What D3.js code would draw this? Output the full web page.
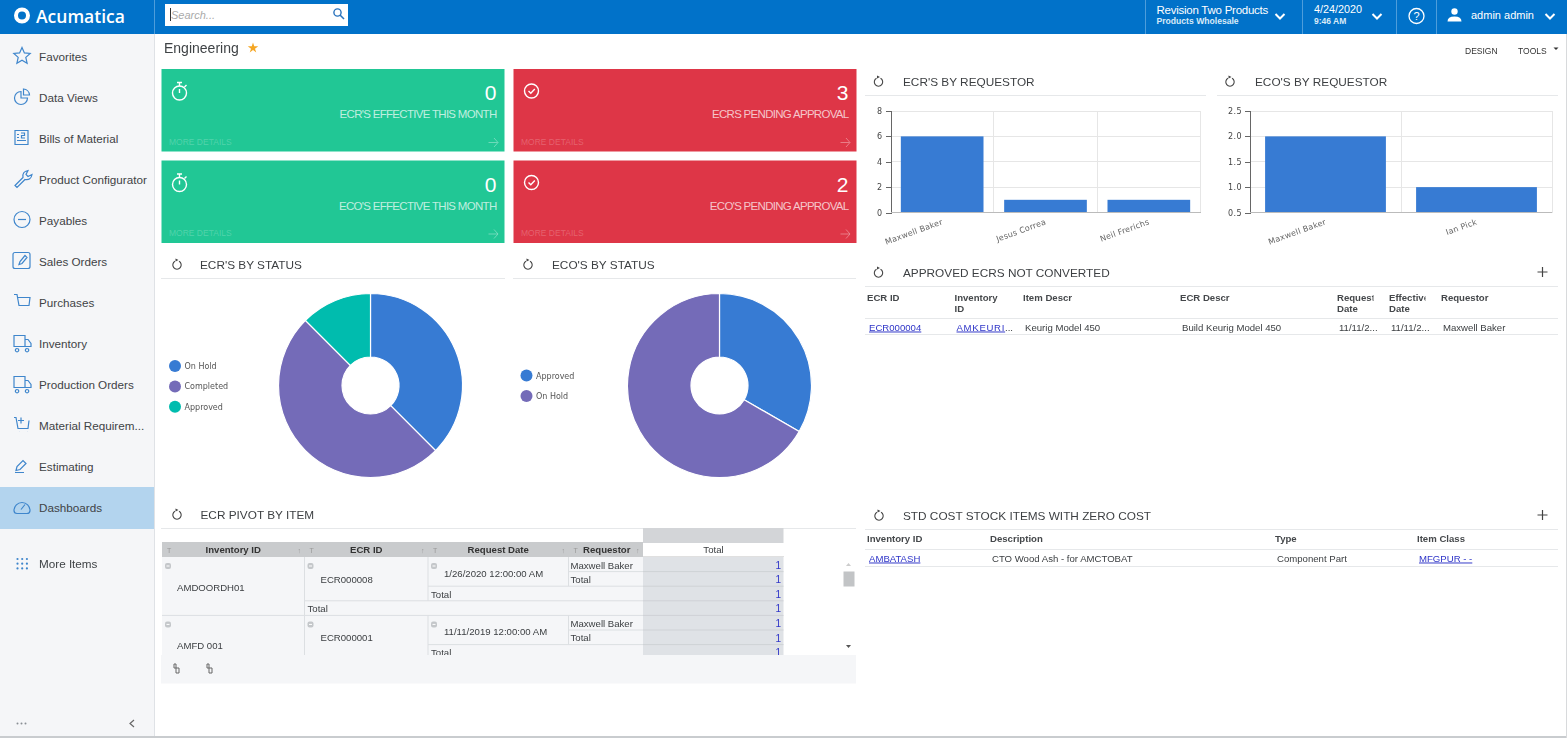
<!DOCTYPE html>
<html>
<head>
<meta charset="utf-8">
<script src="https://cdn.jsdelivr.net/npm/d3@7"></script>
<style>
  html, body { margin: 0; padding: 0; background: #fff; overflow: hidden; }
  svg { display: block; font-family: "Liberation Sans", Arial, sans-serif; filter: blur(0.3px); }
  .title { font-size: 11.8px; fill: #3c3f42; }
  .th { font-size: 9.6px; font-weight: bold; fill: #45484b; }
  .td { font-size: 9.6px; fill: #3d4043; }
  .link { font-size: 9.6px; fill: #2f35c8; text-decoration: underline; }
  .axis text { font-family: "DejaVu Sans", sans-serif; font-size: 8px; letter-spacing: 0.4px; fill: #444; }
  .axis path, .axis line { stroke: #666; shape-rendering: crispEdges; }
  .grid line { stroke: #e6e6e6; shape-rendering: crispEdges; }
  .cat { font-family: "DejaVu Sans", sans-serif; font-size: 8px; letter-spacing: 0.2px; fill: #666; }
  .legend { font-family: "DejaVu Sans", sans-serif; font-size: 8px; fill: #555; }
  .nav { font-size: 11.7px; fill: #3f4346; }
  .ico { fill: none; stroke: #3f86cc; stroke-width: 1.2; }
</style>
</head>
<body>
<svg id="page" width="1567" height="738"></svg>
<script>
// chart data
var ecrRequestors = ["Maxwell Baker", "Jesus Correa", "Neil Frerichs"];
var ecrCounts = [6, 1, 1];
var ecrTicks = [0, 2, 4, 6, 8];
var ecoRequestors = ["Maxwell Baker", "Ian Pick"];
var ecoCounts = [2, 1];
var ecoTicks = [0.5, 1.0, 1.5, 2.0, 2.5];
var ecrStatus = ["On Hold", "Completed", "Approved"];
var ecrStatusCounts = [3, 4, 1];
var ecoStatus = ["Approved", "On Hold"];
var ecoStatusCounts = [1, 2];

// page text
var navItems = ["Favorites", "Data Views", "Bills of Material", "Product Configurator", "Payables", "Sales Orders",
  "Purchases", "Inventory", "Production Orders", "Material Requirem...", "Estimating", "Dashboards"];
var approvedHeaders = [["ECR ID"], ["Inventory", "ID"], ["Item Descr"], ["ECR Descr"], ["Request", "Date"], ["Effective", "Date"], ["Requestor"]];
var approvedRow = ["ECR000004", "AMKEURI", "Keurig Model 450", "Build Keurig Model 450", "11/11/2...", "11/11/2...", "Maxwell Baker"];
var stdHeaders = ["Inventory ID", "Description", "Type", "Item Class"];
var stdRow = ["AMBATASH", "CTO Wood Ash - for AMCTOBAT", "Component Part", "MFGPUR - -"];
var pivotHeaders = ["Inventory ID", "ECR ID", "Request Date", "Requestor"];

var colors = ["#377bd3", "#746bb8", "#00bcae"];
var svg = d3.select("#page");
var defs = svg.append("defs");

function rect(g, x, y, w, h, fill) {
  return g.append("rect").attr("x", x).attr("y", y).attr("width", w).attr("height", h).attr("fill", fill);
}
function text(g, x, y, s, cls) {
  return g.append("text").attr("x", x).attr("y", y).attr("class", cls || null).text(s);
}
function rule(g, x1, x2, y, color) {
  g.append("line").attr("x1", x1).attr("x2", x2).attr("y1", y + 0.5).attr("y2", y + 0.5)
    .attr("stroke", color || "#e6e8ea").attr("shape-rendering", "crispEdges");
}
function refreshIcon(g, cx, cy) {
  g.append("path").attr("fill", "none").attr("stroke", "#444").attr("stroke-width", 1.1)
    .attr("d", d3.arc()({innerRadius: 4.2, outerRadius: 4.2, startAngle: 0.5, endAngle: 5.8}))
    .attr("transform", "translate(" + cx + "," + cy + ")");
  g.append("path").attr("fill", "#444").attr("d", "M" + (cx - 1.5) + " " + (cy - 6.5) + "l3 1.5l-3 1.5z");
}
function panelTitle(g, s, iconX, textX, y, x1, x2) {
  refreshIcon(g, iconX, y - 4);
  text(g, textX, y, s, "title");
  rule(g, x1, x2, y + 9);
}
function chevron(g, cx, cy) {
  g.append("path").attr("fill", "none").attr("stroke", "#fff").attr("stroke-width", 2)
    .attr("d", "M" + (cx - 4.5) + " " + (cy - 2) + "l4.5 4.5l4.5 -4.5");
}

// top bar
var bar = svg.append("g");
rect(bar, 0, 0, 1567, 34, "#0172c9");
bar.append("circle").attr("cx", 22).attr("cy", 15.5).attr("r", 6).attr("fill", "none").attr("stroke", "#fff").attr("stroke-width", 4);
text(bar, 36, 22.5, "Acumatica").attr("fill", "#fff").attr("font-family", "'Open Sans'").attr("font-size", 17.5).attr("font-weight", 600);
[154, 1145, 1302, 1396, 1436].forEach(function(x) {
  bar.append("line").attr("x1", x + 0.5).attr("x2", x + 0.5).attr("y1", 0).attr("y2", 34).attr("stroke", "#4d9ddb");
});
rect(bar, 165, 4, 183, 22, "#fff");
bar.append("line").attr("x1", 170.5).attr("x2", 170.5).attr("y1", 8).attr("y2", 21).attr("stroke", "#333");
text(bar, 171, 19, "Search...").attr("font-size", 11).attr("font-style", "italic").attr("fill", "#aaa");
bar.append("circle").attr("cx", 337.5).attr("cy", 12.5).attr("r", 3.6).attr("fill", "none").attr("stroke", "#2a73bd").attr("stroke-width", 1.4);
bar.append("line").attr("x1", 340).attr("y1", 15).attr("x2", 344).attr("y2", 19).attr("stroke", "#2a73bd").attr("stroke-width", 1.6);
text(bar, 1156.5, 13.5, "Revision Two Products").attr("fill", "#fff").attr("font-size", 11.5).attr("letter-spacing", -0.25);
text(bar, 1156.5, 24, "Products Wholesale").attr("fill", "#d8eaf8").attr("font-size", 8.6).attr("font-weight", "bold");
chevron(bar, 1280, 16);
text(bar, 1314, 12.5, "4/24/2020").attr("fill", "#fff").attr("font-size", 10.8);
text(bar, 1314, 24, "9:46 AM").attr("fill", "#d8eaf8").attr("font-size", 8.5).attr("font-weight", "bold");
chevron(bar, 1377, 16);
bar.append("circle").attr("cx", 1416.5).attr("cy", 16).attr("r", 7.5).attr("fill", "none").attr("stroke", "#fff").attr("stroke-width", 1.3);
text(bar, 1416.5, 20, "?").attr("fill", "#fff").attr("font-size", 11).attr("text-anchor", "middle");
bar.append("circle").attr("cx", 1454.5).attr("cy", 11.5).attr("r", 3.2).attr("fill", "#fff");
bar.append("path").attr("fill", "#fff").attr("d", "M1447.5 21.5q0 -5 7 -5q7 0 7 5z");
text(bar, 1471, 18.5, "admin admin").attr("fill", "#fff").attr("font-size", 11);
chevron(bar, 1550, 16);

// side menu
var side = svg.append("g");
rect(side, 0, 34, 154, 704, "#f5f6f8");
rect(side, 0, 487, 154, 42, "#b3d4ee");
side.append("line").attr("x1", 154.5).attr("x2", 154.5).attr("y1", 34).attr("y2", 738).attr("stroke", "#dfe2e6");

var navIcons = [
  "M0 -8l2.4 5.4l5.8 .6l-4.4 3.9l1.3 5.8l-5.1 -3l-5.1 3l1.3 -5.8l-4.4 -3.9l5.8 -.6z",
  "M-1 -5a6.5 6.5 0 1 0 6.5 6.5h-6.5zM1.5 -7.5a6.5 6.5 0 0 1 6 6h-6z",
  "M-7 -7h13v14h-13zM-5 -3h2M-5 0h2M-5 3h9M-1 -4.5h3.5v2.5h-3v2.500h3.500",
  "M-7 7l8 -8q-1 -6 5 -7l-2 4l2 2l4 -2q-1 6 -7 5l-8 8z",
  null,
  "M-7 -8h13q2 0 2 2v12q0 2 -2 2h-13q-2 0 -2 -2v-12q0 -2 2 -2zM-3 4l1 -3l5 -6l2 2l-5 6z",
  "M-8 -7h3l2 11h10l1 -8h-12M-3 7h.1M5 7h.1",
  "M-8 -7h11v11h-11zM3 -3h3l3 4v3h-6M-5 6a1.700 1.700 0 1 0 .1 0M5 6a1.700 1.700 0 1 0 .1 0",
  "M-8 -7h11v11h-11zM3 -3h3l3 4v3h-6M-5 6a1.700 1.700 0 1 0 .1 0M5 6a1.700 1.700 0 1 0 .1 0",
  "M-8 -7h2l2 11h10l1 -8M-1 -7v6M-4 -4h6M-3 7h.1M5 7h.1",
  "M-6 5l1 -4l6 -6l3 3l-6 6zM-7 7h9",
  "M-8 4a8 8 0 1 1 16 0q0 3 -3 3h-10q-3 0 -3 -3zM-1 3l4 -5"
];
navItems.forEach(function(label, i) {
  var y = 56.5 + 41 * i;
  text(side, 39, y + 4, label, "nav");
  var ic = side.append("g").attr("transform", "translate(22," + (y - 1) + ")");
  if (navIcons[i]) {
    ic.append("path").attr("class", "ico").attr("d", navIcons[i]);
  } else {
    ic.append("circle").attr("class", "ico").attr("r", 8);
    ic.append("line").attr("class", "ico").attr("x1", -4).attr("x2", 4);
  }
});
text(side, 39, 568, "More Items", "nav");
d3.range(9).forEach(function(k) {
  side.append("circle").attr("cx", 17.5 + (k % 3) * 4.7).attr("cy", 559 + Math.floor(k / 3) * 4.7).attr("r", 1.1).attr("fill", "#3f86cc");
});
d3.range(3).forEach(function(k) {
  side.append("circle").attr("cx", 17.5 + k * 4).attr("cy", 723.5).attr("r", 1).attr("fill", "#8a8f94");
});
side.append("path").attr("fill", "none").attr("stroke", "#666").attr("stroke-width", 1.2).attr("d", "M134 720l-4 3.500l4 3.500");
rect(svg, 0, 736, 1567, 2, "#c9cccf");
rect(svg, 1566, 34, 1, 704, "#d8dadc");

// page header
var head = svg.append("g");
text(head, 164, 53, "Engineering").attr("font-size", 14).attr("fill", "#3f4346");
head.append("path").attr("fill", "#f5a623").attr("d", d3.symbol(d3.symbolStar, 34)()).attr("transform", "translate(253,48)");
text(head, 1465, 53.5, "DESIGN").attr("font-size", 8.5).attr("fill", "#333");
text(head, 1518, 53.5, "TOOLS").attr("font-size", 8.5).attr("fill", "#333");
head.append("path").attr("fill", "#333").attr("d", "M1553.500 47.500h5l-2.500 2.500z");

// summary tiles
function tile(x, y, value, label, color, icon) {
  var g = svg.append("g").attr("transform", "translate(" + x + "," + y + ")");
  rect(g, 0, 0, 343, 82.5, color);
  text(g, 335, 31, value).attr("text-anchor", "end").attr("fill", "#fff").attr("font-size", 21);
  text(g, 335, 49, label).attr("text-anchor", "end").attr("fill", "#fff").attr("fill-opacity", 0.72)
    .attr("font-size", 11.5).attr("letter-spacing", -0.7);
  text(g, 7.5, 75.500, "MORE DETAILS").attr("fill", "#fff").attr("fill-opacity", 0.22).attr("font-size", 8.5);
  g.append("path").attr("fill", "none").attr("stroke", "#fff").attr("stroke-opacity", 0.35)
    .attr("d", "M327 73.500h9M332.500 69l4 4.500l-4 4.500");
  var ic = g.append("g").attr("transform", "translate(18," + (icon === "clock" ? 24 : 22) + ")")
    .attr("fill", "none").attr("stroke", "#fff").attr("stroke-width", 1.4);
  ic.append("circle").attr("r", 7);
  if (icon === "clock") {
    ic.append("path").attr("d", "M0 -7v-3M-2.500 -10.500h5M5 -6l2 -2M0 0v-4");
  } else {
    ic.append("path").attr("d", "M-3 0l2.300 2.300l4 -4.300");
  }
}
tile(161.5, 69, "0", "ECR'S EFFECTIVE THIS MONTH", "#21c795", "clock");
tile(161.5, 160.5, "0", "ECO'S EFFECTIVE THIS MONTH", "#21c795", "clock");
tile(513.5, 69, "3", "ECRS PENDING APPROVAL", "#de3647", "check");
tile(513.5, 160.5, "2", "ECO'S PENDING APPROVAL", "#de3647", "check");

// bar charts
function barChart(title, iconX, textX, ruleL, ruleR, left, right, names, values, domain, ticks, fmt) {
  var g = svg.append("g");
  panelTitle(g, title, iconX, textX, 86, ruleL, ruleR);
  var plotTop = 111, plotBottom = 212.5;
  var x = d3.scaleBand().domain(names).range([left, right]).paddingInner(0.2).paddingOuter(0.1);
  var y = d3.scaleLinear().domain(domain).range([plotBottom, plotTop]);
  var grid = g.append("g").attr("class", "grid");
  grid.selectAll("line.h").data(ticks).join("line").attr("class", "h")
    .attr("x1", left).attr("x2", right).attr("y1", function(d) { return y(d); }).attr("y2", function(d) { return y(d); });
  var step = x.step();
  grid.selectAll("line.v").data(d3.range(1, names.length + 1)).join("line").attr("class", "v")
    .attr("x1", function(d) { return left + step * d; }).attr("x2", function(d) { return left + step * d; })
    .attr("y1", plotTop).attr("y2", plotBottom);
  g.selectAll("rect.bar").data(values).join("rect").attr("class", "bar").attr("fill", colors[0])
    .attr("x", function(d, i) { return x(names[i]); }).attr("width", x.bandwidth())
    .attr("y", function(d) { return y(d); }).attr("height", function(d) { return plotBottom - y(d); });
  g.append("g").attr("class", "axis").attr("transform", "translate(" + left + ",0)")
    .call(d3.axisLeft(y).tickValues(ticks).tickSize(5).tickPadding(3).tickFormat(fmt));
  g.append("line").attr("x1", left).attr("x2", right).attr("y1", plotBottom).attr("y2", plotBottom)
    .attr("stroke", "#bbb").attr("shape-rendering", "crispEdges");
  names.forEach(function(n) {
    var cx = x(n) + x.bandwidth() / 2;
    g.append("text").attr("class", "cat").attr("text-anchor", "end")
      .attr("transform", "translate(" + (cx + 1) + ",224) rotate(-20)").text(n);
  });
}
barChart("ECR'S BY REQUESTOR", 878.5, 903, 865, 1206, 890.5, 1200.5, ecrRequestors, ecrCounts, [0, 8], ecrTicks, d3.format("d"));
barChart("ECO'S BY REQUESTOR", 1230, 1255, 1217, 1558, 1250, 1552, ecoRequestors, ecoCounts, [0.5, 2.5], ecoTicks, d3.format(".1f"));

// donut charts
function donut(title, iconX, textX, ruleL, ruleR, cx, legendX, legendY, names, values) {
  var g = svg.append("g");
  panelTitle(g, title, iconX, textX, 269, ruleL, ruleR);
  var arcs = d3.pie().sort(null)(values);
  var arc = d3.arc().innerRadius(28.5).outerRadius(92);
  g.append("g").attr("transform", "translate(" + cx + ",385.5)")
    .selectAll("path").data(arcs).join("path")
    .attr("d", arc).attr("fill", function(d, i) { return colors[i]; })
    .attr("stroke", "#fff").attr("stroke-width", 1.2);
  names.forEach(function(n, i) {
    var y = legendY + i * 20.4;
    g.append("circle").attr("cx", legendX).attr("cy", y).attr("r", 6).attr("fill", colors[i]);
    text(g, legendX + 9.500, y + 3, n, "legend");
  });
}
donut("ECR'S BY STATUS", 177, 200, 161, 505, 370.5, 175, 366, ecrStatus, ecrStatusCounts);
donut("ECO'S BY STATUS", 528, 552, 513, 856, 719.5, 526.5, 375.5, ecoStatus, ecoStatusCounts);

// approved ECRs table
var appr = svg.append("g");
panelTitle(appr, "APPROVED ECRS NOT CONVERTED", 878.5, 903, 277, 865, 1558);
var plus = function(g, cx, cy) {
  g.append("path").attr("stroke", "#444").attr("stroke-width", 1.2).attr("d", "M" + (cx - 5) + " " + cy + "h10M" + cx + " " + (cy - 5) + "v10");
};
plus(appr, 1542.5, 272);
var apprX = [867, 954.5, 1023, 1180, 1337, 1389, 1441, 1556];
approvedHeaders.forEach(function(lines, i) {
  // narrow columns cut their header text off
  defs.append("clipPath").attr("id", "apprCol" + i).append("rect")
    .attr("x", apprX[i]).attr("y", 288).attr("width", apprX[i + 1] - apprX[i] - 15.5).attr("height", 30);
  lines.forEach(function(s, k) {
    text(appr, apprX[i], 300.5 + k * 11.5, s, "th").attr("clip-path", "url(#apprCol" + i + ")");
  });
});
rule(appr, 865, 1558, 318);
approvedRow.forEach(function(s, i) {
  var t = text(appr, apprX[i] + 2, 330.5, s, i < 2 ? "link" : "td");
  if (i === 1) t.attr("letter-spacing", 0.7);
});
text(appr, 1005, 330.5, "...", "td");
rule(appr, 865, 1558, 334);

// zero cost table
var std = svg.append("g");
panelTitle(std, "STD COST STOCK ITEMS WITH ZERO COST", 879, 903, 520, 865, 1558);
plus(std, 1542.5, 515);
var stdX = [867, 990, 1275, 1417];
stdHeaders.forEach(function(s, i) { text(std, stdX[i], 542, s, "th"); });
rule(std, 865, 1558, 549);
stdRow.forEach(function(s, i) {
  text(std, stdX[i] + 2, 561.5, s, i === 0 || i === 3 ? "link" : "td");
});
rule(std, 865, 1558, 566);

// pivot table
var piv = svg.append("g");
panelTitle(piv, "ECR PIVOT BY ITEM", 177, 200.5, 519, 161, 856);
rect(piv, 643, 528, 140.5, 15, "#d3d5d8");
rect(piv, 162, 542, 481, 15, "#c9cbcd");
var colX = [162, 304.5, 428, 568.5, 643, 783.5];
var rowH = 14.6, bodyTop = 557;
pivotHeaders.forEach(function(s, i) {
  text(piv, (colX[i] + colX[i + 1]) / 2 + (i === 3 ? 1 : 0), 553, s, "th").attr("text-anchor", "middle").style("fill", "#333");
  text(piv, colX[i] + 5, 552.5, "T").attr("font-size", 7).attr("fill", "#999");
  text(piv, colX[i + 1] - 7, 552.5, "↑").attr("font-size", 7).attr("fill", "#999");
});
text(piv, 713.5, 553, "Total", "td").attr("text-anchor", "middle");
rule(piv, 643, 783.5, 556, "#e0e0e0");
defs.append("clipPath").attr("id", "pivClip").append("rect")
  .attr("x", 161).attr("y", bodyTop).attr("width", 695).attr("height", 98);
var pivBody = piv.append("g").attr("clip-path", "url(#pivClip)");
rect(pivBody, 162, bodyTop, 481, 98, "#f5f6f8");
rect(pivBody, 643, bodyTop, 140.5, 98, "#dfe2e6");
d3.range(7).forEach(function(i) {
  var y = bodyTop + rowH * (i + 1);
  pivBody.append("line").attr("x1", 643).attr("x2", 783.5).attr("y1", y).attr("y2", y).attr("stroke", "#cfd2d6");
  text(pivBody, 781, y - 3, "1").attr("text-anchor", "end").attr("font-size", 10).attr("fill", "#2f35c8");
});
function pivotLine(x1, x2, y1, y2) {
  pivBody.append("line").attr("x1", x1).attr("x2", x2).attr("y1", y1).attr("y2", y2).attr("stroke", "#dcdfe2");
}
[0, 4].forEach(function(start, b) {
  var y0 = bodyTop + start * rowH;
  pivotLine(colX[3], colX[4], y0 + rowH, y0 + rowH);
  pivotLine(colX[2], colX[4], y0 + 2 * rowH, y0 + 2 * rowH);
  pivotLine(colX[1], colX[4], y0 + 3 * rowH, y0 + 3 * rowH);
  pivotLine(colX[0], colX[4], y0 + 4 * rowH, y0 + 4 * rowH);
  pivotLine(colX[1], colX[1], y0, y0 + 4 * rowH);
  pivotLine(colX[2], colX[2], y0, y0 + 3 * rowH);
  pivotLine(colX[3], colX[3], y0, y0 + 2 * rowH);
  [colX[0] + 3, colX[1] + 3, colX[2] + 3].forEach(function(mx) {
    rect(pivBody, mx, y0 + 6, 6, 6, "#c4c7ca").attr("rx", 2);
    rect(pivBody, mx + 1.500, y0 + 8.500, 3, 1, "#fff");
  });
  text(pivBody, 177, y0 + 33.5, ["AMDOORDH01", "AMFD 001"][b], "td");
  text(pivBody, 320.5, y0 + 26, ["ECR000008", "ECR000001"][b], "td");
  text(pivBody, 444, y0 + 20, ["1/26/2020 12:00:00 AM", "11/11/2019 12:00:00 AM"][b], "td");
  text(pivBody, 570.5, y0 + 12, "Maxwell Baker", "td");
  text(pivBody, 570.5, y0 + 25.5, "Total", "td");
  text(pivBody, 431, y0 + 41, "Total", "td");
  if (b === 0) text(pivBody, 307.5, y0 + 54.5, "Total", "td");
});
rect(piv, 843, 557, 12.5, 98, "#fff");
rect(piv, 843.5, 571.5, 11, 15, "#c2c4c6");
piv.append("path").attr("fill", "#ccc").attr("d", "M846 566l2.500 -3l2.500 3z");
piv.append("path").attr("fill", "#555").attr("d", "M846 645l2.500 3l2.500 -3z");
rect(piv, 161, 655, 695, 28.5, "#f5f6f8");
[177, 210].forEach(function(x) {
  piv.append("path").attr("fill", "none").attr("stroke", "#666").attr("d",
    "M" + (x - 3) + " 664v4h2v-4zM" + (x - 1) + " 668h3v5h-3z");
});
</script>
</body>
</html>
